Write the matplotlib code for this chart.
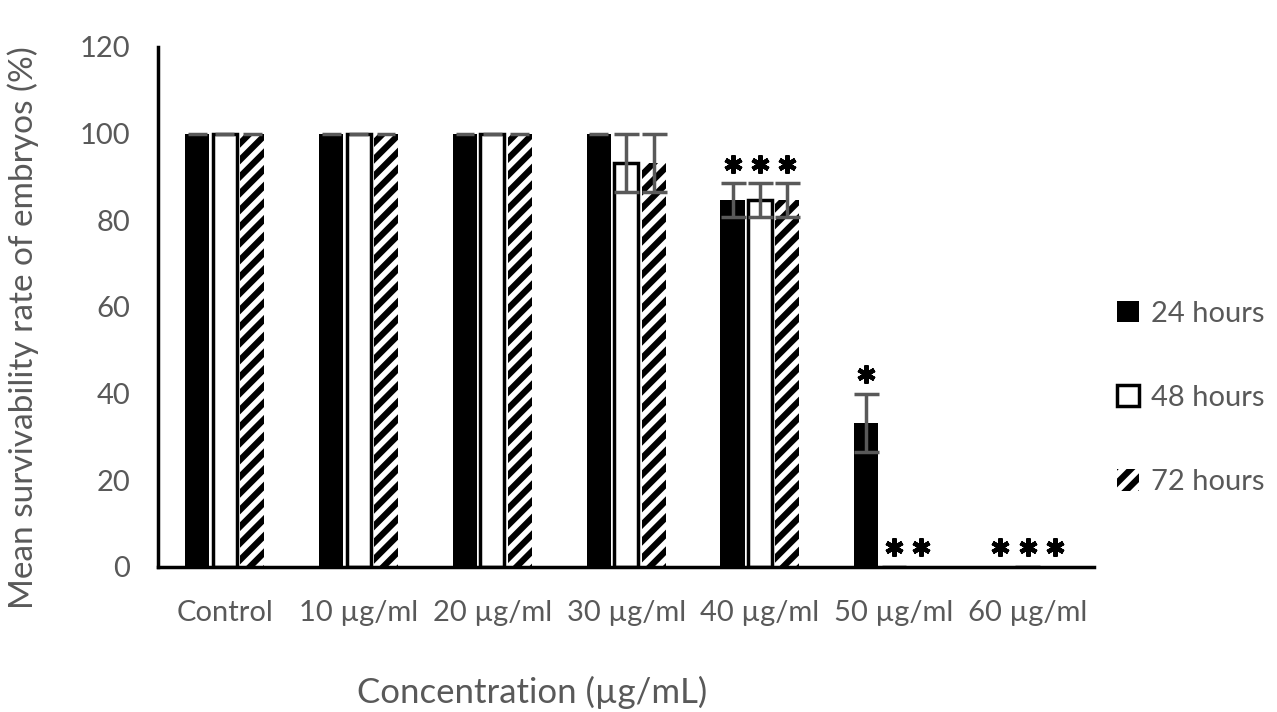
import matplotlib.pyplot as plt
import numpy as np

plt.rcParams["font.family"] = ["Lato", "DejaVu Sans"]
plt.rcParams["hatch.linewidth"] = 4.5

categories = ["Control", "10 µg/ml", "20 µg/ml", "30 µg/ml", "40 µg/ml", "50 µg/ml", "60 µg/ml"]
series = ["24 hours", "48 hours", "72 hours"]
mean_24h = [100, 100, 100, 100, 84.7, 33.3, 0]
mean_48h = [100, 100, 100, 93.3, 84.7, 0, 0]
mean_72h = [100, 100, 100, 93.3, 84.7, 0, 0]
err_24h = [0, 0, 0, 0, 3.9, 6.7, 0]
err_48h = [0, 0, 0, 6.7, 3.9, 0, 0]
err_72h = [0, 0, 0, 6.7, 3.9, 0, 0]
# significance markers: (group index, series index)
sig_marks = [(4, 0), (4, 1), (4, 2), (5, 1), (5, 2), (5, 0), (6, 0), (6, 1), (6, 2)]

means = [mean_24h, mean_48h, mean_72h]
errs = [err_24h, err_48h, err_72h]
grey = "#595959"

fig = plt.figure(figsize=(12.77, 7.12), dpi=100)
ax = fig.add_axes([0.1237, 0.2037, 0.7333, 0.7303])

x = np.arange(len(categories))
width = 0.18
step = 0.205
offsets = [-step, 0, step]
styles = [
    dict(color="black", edgecolor="black", linewidth=0),
    dict(color="white", edgecolor="black", linewidth=2.5),
    dict(color="white", edgecolor="black", linewidth=0, hatch="//"),
]

for i in range(3):
    pos = x + offsets[i]
    ax.bar(pos, means[i], width, label=series[i], **styles[i])
    has_err = np.array(errs[i]) > 0
    ax.errorbar(pos[has_err], np.array(means[i])[has_err], yerr=np.array(errs[i])[has_err],
                fmt="none", ecolor=grey, elinewidth=2.5, capsize=9, capthick=2.5)
    # grey caps on top of full bars
    full = (np.array(means[i]) == 100) & ~has_err
    ax.hlines(np.array(means[i])[full], pos[full] - width / 2 + 0.02, pos[full] + width / 2 - 0.02,
              color=grey, linewidth=2.5)

for g, s in sig_marks:
    val = means[s][g]
    top = val + errs[s][g]
    y = top + 4.5 if val > 0 else 4.5
    ax.plot(x[g] + offsets[s], y, marker=(6, 2, 0), markersize=13, markeredgewidth=3.2,
            color="black", linestyle="none")

ax.set_xlim(-0.5, len(categories) - 0.5)
ax.set_ylim(0, 120)
ax.set_yticks(range(0, 121, 20))
ax.set_xticks(x)
ax.set_xticklabels(categories)
ax.tick_params(axis="both", length=0, labelsize=21, colors=grey)
ax.tick_params(axis="y", pad=20)
ax.tick_params(axis="x", pad=24)
for side in ["top", "right"]:
    ax.spines[side].set_visible(False)
ax.spines["left"].set_linewidth(2.5)
ax.spines["bottom"].set_linewidth(2.5)

ax.set_ylabel("Mean survivability rate of embryos (%)", fontsize=24, color=grey)
ax.set_xlabel("Concentration (µg/mL)", fontsize=25, color=grey)
ax.yaxis.set_label_coords(-0.127, 0.46)
ax.xaxis.set_label_coords(0.40, -0.21)

leg = ax.legend(loc="center left", bbox_to_anchor=(0.99, 0.325), frameon=False, fontsize=21,
                labelcolor=grey, labelspacing=2.0, handlelength=0.75, handleheight=0.75,
                handletextpad=0.4, borderpad=0, borderaxespad=1.1)

fig.savefig("out.png", dpi=100)
